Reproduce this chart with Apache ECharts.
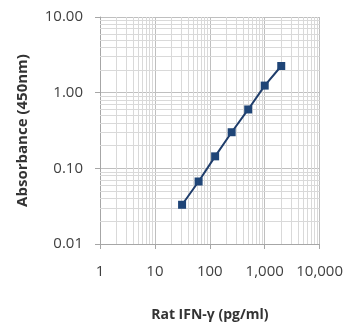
<!DOCTYPE html>
<html><head><meta charset="utf-8">
<script src="https://cdn.jsdelivr.net/npm/echarts@6/dist/echarts.min.js"></script>
<style>html,body{margin:0;padding:0;background:#fff}#c{width:346px;height:327px}</style>
</head><body><div id="c"></div>
<script>
const concentrations = [31.25, 62.5, 125, 250, 500, 1000, 2000];
const absorbance = [0.033, 0.067, 0.144, 0.30, 0.60, 1.24, 2.25];
const xDecades = [1, 10, 100, 1000];
const yDecades = [0.01, 0.1, 1];
const minorSteps = [2, 3, 4, 5, 6, 7, 8, 9];

const xMinor = [];
xDecades.forEach(d => minorSteps.forEach(m => xMinor.push({xAxis: d * m})));
const yMinor = [];
yDecades.forEach(d => minorSteps.forEach(m => yMinor.push({yAxis: +(d * m).toPrecision(3)})));

const font = '"Open Sans", "Liberation Sans", sans-serif';
const chart = echarts.init(document.getElementById('c'));
chart.setOption({
  animation: false,
  grid: {left: 100, right: 26, top: 17, bottom: 83},
  xAxis: {
    type: 'log', logBase: 10, min: 1, max: 10000,
    name: 'Rat IFN-γ (pg/ml)', nameLocation: 'middle', nameGap: 64,
    nameTextStyle: {fontFamily: font, fontWeight: 'bold', fontSize: 14, color: '#333'},
    axisLine: {lineStyle: {color: '#a6a6a6'}},
    axisTick: {show: true, length: 5, lineStyle: {color: '#a6a6a6'}},
    axisLabel: {margin: 20, fontFamily: font, fontSize: 15, color: '#404040',
      formatter: v => Math.round(v).toLocaleString('en-US')},
    splitLine: {show: true, lineStyle: {color: '#bfbfbf', width: 1}}
  },
  yAxis: {
    type: 'log', logBase: 10, min: 0.01, max: 10,
    name: 'Absorbance (450nm)', nameLocation: 'middle', nameGap: 70,
    nameTextStyle: {fontFamily: font, fontWeight: 'bold', fontSize: 15, color: '#333'},
    axisLine: {show: true, lineStyle: {color: '#a6a6a6'}},
    axisTick: {show: true, length: 5, lineStyle: {color: '#a6a6a6'}},
    axisLabel: {margin: 17, fontFamily: font, fontSize: 15, color: '#404040',
      formatter: v => v.toFixed(2)},
    splitLine: {show: true, lineStyle: {color: '#bfbfbf', width: 1}}
  },
  series: [{
    type: 'line',
    data: concentrations.map((c, i) => [c, absorbance[i]]),
    symbol: 'rect', symbolSize: 8,
    lineStyle: {color: '#1f3d6b', width: 2},
    itemStyle: {color: '#1f4577'},
    z: 5,
    markLine: {
      silent: true, symbol: 'none', label: {show: false},
      lineStyle: {color: '#d9d9d9', width: 1, type: 'solid'},
      data: xMinor.concat(yMinor),
      z: 1
    }
  }]
});
</script></body></html>
